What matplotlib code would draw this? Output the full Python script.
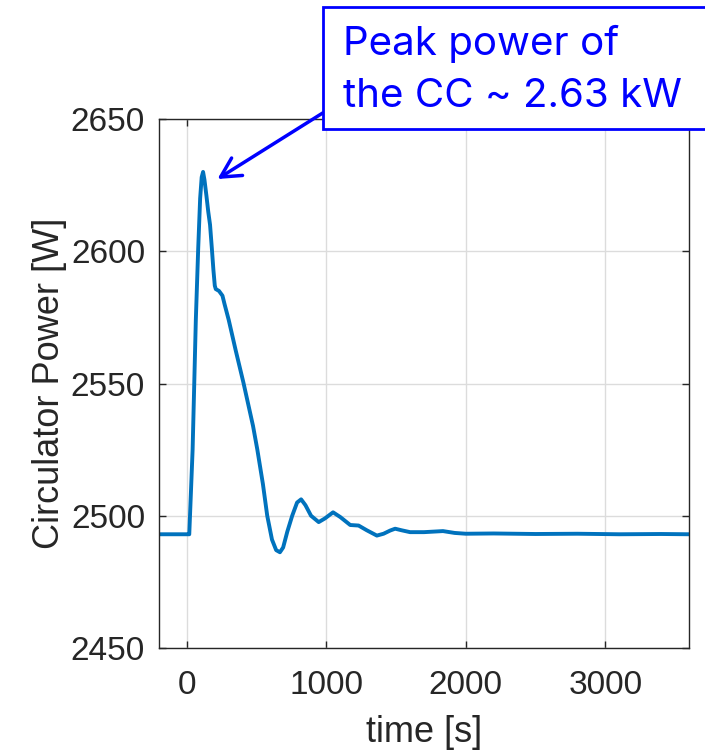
import matplotlib
matplotlib.use("Agg")
import matplotlib.pyplot as plt
from matplotlib.patches import Rectangle
import numpy as np

# circulator power trace
t_s = [-200, 0, 17, 41, 64, 81, 95, 106, 116, 126, 140, 153, 166, 179, 190, 200,
       207, 230, 255, 270, 300, 350, 405, 474, 505, 545, 576, 610, 640, 667,
       690, 720, 755, 790, 819, 850, 890, 945, 990, 1048, 1100, 1171, 1231,
       1290, 1362, 1410, 1457, 1493, 1540, 1600, 1700, 1836, 1920, 2000, 2200,
       2500, 2800, 3100, 3400, 3600]
p_w = [2493, 2493, 2493, 2525, 2574, 2601, 2620, 2628, 2630, 2627, 2621, 2615,
       2610, 2601, 2593, 2587, 2585.7, 2585, 2583.2, 2580, 2574, 2562.5, 2550.4,
       2534, 2525, 2512, 2500, 2491, 2487, 2486.2, 2488, 2494, 2500, 2505,
       2506.2, 2504, 2500, 2497.6, 2499, 2501.3, 2499.5, 2496.5, 2496.3, 2494.5,
       2492.5, 2493.2, 2494.4, 2495.1, 2494.5, 2493.8, 2493.8, 2494.2, 2493.5,
       2493.2, 2493.3, 2493.1, 2493.2, 2493.0, 2493.1, 2493.0]

xticks = [0, 1000, 2000, 3000]
yticks = [2450, 2500, 2550, 2600, 2650]
note_lines = ["Peak power of", "the CC ~ 2.63 kW"]

W, H = 705, 753
fig = plt.figure(figsize=(W / 100, H / 100), dpi=100)
ax = fig.add_axes([159 / W, 1 - 648 / H, 530 / W, 529 / H])

ax.plot(t_s, p_w, color="#0072BD", lw=2.8, solid_joinstyle="round")
ax.set_xlim(-200, 3600)
ax.set_ylim(2450, 2650)
ax.set_xticks(xticks)
ax.set_yticks(yticks)
ax.grid(True, color="#dcdcdc", lw=1)
ax.set_axisbelow(True)
for s in ax.spines.values():
    s.set_color("#262626")
    s.set_linewidth(1)
ax.tick_params(direction="in", length=5, width=1, color="#262626",
               top=True, right=True, labelsize=24, labelcolor="#262626", pad=10)
ax.tick_params(axis="x", pad=16)
for lab in ax.get_xticklabels() + ax.get_yticklabels():
    lab.set_fontfamily("Liberation Sans")
ax.set_xlabel("time [s]", fontsize=26, family="Liberation Sans", color="#262626", labelpad=10)
ax.set_ylabel("Circulator Power [W]", fontsize=26, family="Liberation Sans", color="#262626", labelpad=3)

# callout box
box = Rectangle((322.7 / W, 1 - 129 / H), (W - 321) / W, (129 - 7.3) / H,
                transform=fig.transFigure, fc="white", ec="#0000FF", lw=2,
                clip_on=False, zorder=5)
fig.patches.append(box)
for line, base in zip(note_lines, [55, 107]):
    fig.text(343 / W, 1 - base / H, line, transform=fig.transFigure, fontsize=29,
             family="Inter", color="#0000FF", va="baseline", ha="left", zorder=6)

ax.annotate("", xy=(219, 2627.3), xycoords="data",
            xytext=(322.7 / W, 1 - 113 / H), textcoords="figure fraction",
            arrowprops=dict(arrowstyle="->, head_length=0.7, head_width=0.37",
                            mutation_scale=20, color="#0000FF", lw=2.5,
                            shrinkA=0, shrinkB=0),
            annotation_clip=False)

fig.savefig("out.png", dpi=100)
